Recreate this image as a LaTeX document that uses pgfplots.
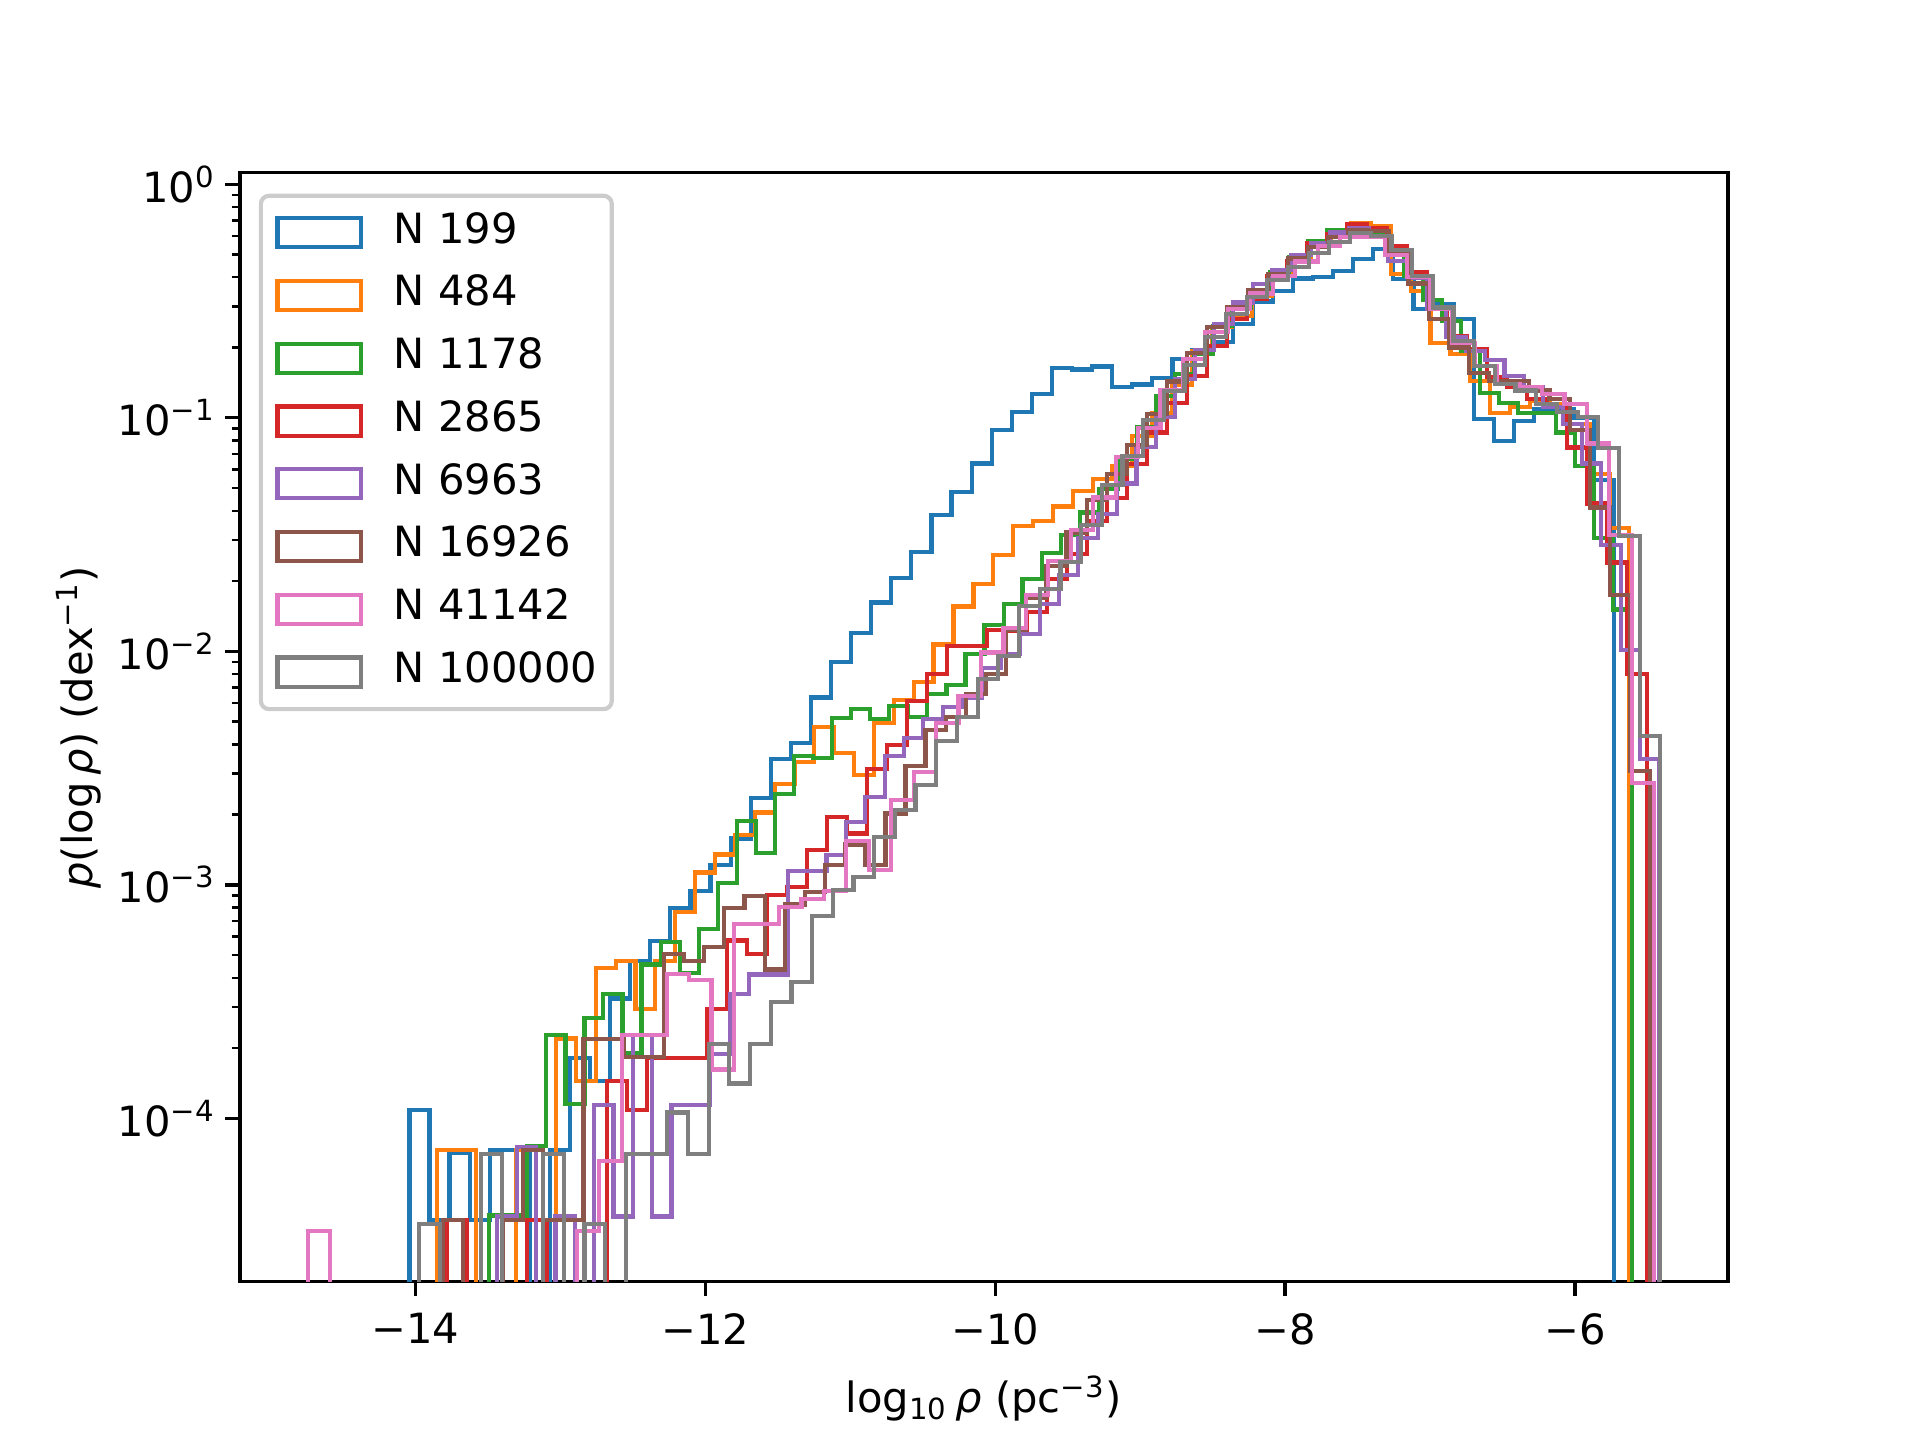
\documentclass[border=0pt]{standalone}
\usepackage{fontspec}
\setmainfont{DejaVu Sans}
\usepackage{pgfplots}
\pgfplotsset{compat=1.18}
\definecolor{c0}{HTML}{1F77B4}
\definecolor{c1}{HTML}{FF7F0E}
\definecolor{c2}{HTML}{2CA02C}
\definecolor{c3}{HTML}{D62728}
\definecolor{c4}{HTML}{9467BD}
\definecolor{c5}{HTML}{8C564B}
\definecolor{c6}{HTML}{E377C2}
\definecolor{c7}{HTML}{7F7F7F}
\definecolor{legframe}{rgb}{0.8,0.8,0.8}
\begin{document}
\begin{tikzpicture}
\useasboundingbox (0,0) rectangle (460.8bp,345.6bp);
\begin{axis}[
  at={(57.6bp,38.016bp)}, anchor=south west,
  scale only axis, width=357.12bp, height=266.11bp,
  ymode=log,
  xmin=-15.2085, xmax=-4.9455, ymin=2.0e-5, ymax=1.12,
  axis line style={line width=0.8bp},
  tick align=outside, xtick pos=left, ytick pos=left,
  major tick length=3.5bp, minor tick length=2bp,
  every major tick/.style={black, line width=0.8bp},
  every minor tick/.style={black, line width=0.6bp},
  xtick={-14,-12,-10,-8,-6},
  xticklabels={−14,−12,−10,−8,−6},
  ytick={1e-4,1e-3,1e-2,1e-1,1},
  yticklabels={10\textsuperscript{−4},10\textsuperscript{−3},10\textsuperscript{−2},10\textsuperscript{−1},10\textsuperscript{0}},
  tick label style={font=\fontsize{10bp}{12bp}\selectfont},
  xticklabel style={yshift=-0.6bp},
  yticklabel style={xshift=1.2bp},
  label style={font=\fontsize{10bp}{12bp}\selectfont},
  xlabel style={yshift=-0.6bp},
  ylabel style={yshift=-3bp},
  xlabel={log\textsubscript{10}\,\textit{ρ} (pc\textsuperscript{−3})},
  ylabel={\textit{p}(log\,\textit{ρ}) (dex\textsuperscript{−1})},
  legend cell align=left,
  legend image code/.code={\draw[#1, sharp corners] (0bp,-3.5bp) rectangle (20bp,3.5bp);},
  legend style={at={(0,1)}, anchor=north west, xshift=4.5bp, yshift=-5bp,
    draw=legframe, line width=1bp, fill=white, fill opacity=0.8, text opacity=1,
    rounded corners=2bp, inner xsep=3.5bp, inner ysep=4bp,
    row sep=5.26bp, column sep=7.4bp,
    font=\fontsize{10bp}{12bp}\selectfont,
    nodes={inner sep=0pt, text height=7.4bp, text depth=2.4bp, anchor=west}},
  every axis plot/.append style={const plot, line width=1bp},
]
\addplot[c0] coordinates {(-14.040,1e-7)
(-14.040,1.09e-4) (-13.902,3.66e-5) (-13.763,7.1e-5) (-13.625,3.66e-5) (-13.486,7.3e-5) (-13.348,7.3e-5) (-13.209,1e-7) (-13.071,7.3e-5) (-12.932,1.82e-4) (-12.794,1.45e-4) (-12.655,3.26e-4) (-12.517,4.72e-4) (-12.378,5.74e-4) (-12.240,7.93e-4) (-12.101,9.4e-4) (-11.963,1.22e-3) (-11.824,1.58e-3) (-11.686,2.36e-3) (-11.547,3.45e-3) (-11.409,4.06e-3) (-11.270,6.34e-3) (-11.132,9.04e-3) (-10.993,0.012) (-10.855,0.0162) (-10.716,0.0206) (-10.578,0.0267) (-10.439,0.0384) (-10.301,0.0483) (-10.162,0.0637) (-10.024,0.0886) (-9.885,0.106) (-9.747,0.126) (-9.608,0.163) (-9.470,0.161) (-9.331,0.166) (-9.193,0.136) (-9.054,0.139) (-8.916,0.148) (-8.777,0.178) (-8.639,0.195) (-8.500,0.212) (-8.362,0.252) (-8.223,0.315) (-8.085,0.35) (-7.946,0.395) (-7.808,0.40) (-7.669,0.424) (-7.531,0.479) (-7.392,0.528) (-7.254,0.393) (-7.115,0.292) (-6.977,0.307) (-6.838,0.266) (-6.700,0.0987) (-6.561,0.0797) (-6.423,0.097) (-6.284,0.109) (-6.146,0.109) (-6.007,0.100) (-5.869,0.054) (-5.730,1e-7)};
\addlegendentry{N 199}
\addplot[c1] coordinates {(-13.852,1e-7)
(-13.852,7.33e-5) (-13.715,7.33e-5) (-13.578,1e-7) (-13.441,1e-7) (-13.304,7.33e-5) (-13.167,1e-7) (-13.029,2.2e-4) (-12.892,1.45e-4) (-12.755,4.39e-4) (-12.618,4.72e-4) (-12.481,2.93e-4) (-12.344,4.72e-4) (-12.207,7.67e-4) (-12.070,1.13e-3) (-11.933,1.35e-3) (-11.796,1.64e-3) (-11.658,2.04e-3) (-11.521,2.71e-3) (-11.384,3.37e-3) (-11.247,4.74e-3) (-11.110,3.68e-3) (-10.973,2.96e-3) (-10.836,4.95e-3) (-10.699,6.17e-3) (-10.562,7.42e-3) (-10.425,0.0107) (-10.287,0.01555) (-10.150,0.0195) (-10.013,0.0258) (-9.876,0.0344) (-9.739,0.0362) (-9.602,0.0417) (-9.465,0.0487) (-9.328,0.0546) (-9.191,0.0622) (-9.054,0.0838) (-8.916,0.105) (-8.779,0.139) (-8.642,0.194) (-8.505,0.244) (-8.368,0.273) (-8.231,0.333) (-8.094,0.406) (-7.957,0.471) (-7.820,0.551) (-7.683,0.616) (-7.545,0.680) (-7.408,0.665) (-7.271,0.413) (-7.134,0.35) (-6.997,0.21) (-6.860,0.1875) (-6.723,0.144) (-6.586,0.105) (-6.449,0.111) (-6.312,0.118) (-6.174,0.115) (-6.037,0.094) (-5.900,0.0574) (-5.763,0.0337) (-5.626,1e-7)};
\addlegendentry{N 484}
\addplot[c2] coordinates {(-13.490,1e-7)
(-13.490,3.84e-5) (-13.359,3.84e-5) (-13.227,7.6e-5) (-13.096,2.27e-4) (-12.964,1.15e-4) (-12.833,2.68e-4) (-12.702,3.42e-4) (-12.570,1.91e-4) (-12.439,4.56e-4) (-12.307,5.69e-4) (-12.176,4.2e-4) (-12.045,6.49e-4) (-11.913,1.02e-3) (-11.782,1.87e-3) (-11.650,1.37e-3) (-11.519,2.44e-3) (-11.388,3.56e-3) (-11.256,3.48e-3) (-11.125,5.2e-3) (-10.993,5.65e-3) (-10.862,5.12e-3) (-10.731,5.83e-3) (-10.599,5.24e-3) (-10.468,6.59e-3) (-10.336,7.18e-3) (-10.205,9.77e-3) (-10.074,0.0130) (-9.942,0.0160) (-9.811,0.0204) (-9.679,0.0263) (-9.548,0.0314) (-9.417,0.0393) (-9.285,0.0495) (-9.154,0.0665) (-9.022,0.091) (-8.891,0.124) (-8.760,0.154) (-8.628,0.1875) (-8.497,0.248) (-8.365,0.295) (-8.234,0.35) (-8.103,0.42) (-7.971,0.49) (-7.840,0.573) (-7.708,0.637) (-7.577,0.637) (-7.446,0.616) (-7.314,0.546) (-7.183,0.406) (-7.051,0.319) (-6.920,0.259) (-6.789,0.194) (-6.657,0.128) (-6.526,0.116) (-6.394,0.105) (-6.263,0.105) (-6.132,0.0865) (-6.000,0.0622) (-5.869,0.0307) (-5.737,0.0151) (-5.606,1e-7)};
\addlegendentry{N 1178}
\addplot[c3] coordinates {(-13.783,1e-7)
(-13.783,3.66e-5) (-13.645,1e-7) (-13.507,1e-7) (-13.369,1e-7) (-13.231,3.66e-5) (-13.093,1e-7) (-12.955,1e-7) (-12.817,1e-7) (-12.679,1.45e-4) (-12.541,1.09e-4) (-12.403,1.82e-4) (-12.265,1.82e-4) (-12.127,1.82e-4) (-11.989,2.93e-4) (-11.851,5.78e-4) (-11.713,5.07e-4) (-11.575,9.06e-4) (-11.437,9.79e-4) (-11.299,1.41e-3) (-11.161,1.95e-3) (-11.023,1.66e-3) (-10.885,3.13e-3) (-10.747,3.97e-3) (-10.609,6.13e-3) (-10.471,7.98e-3) (-10.333,0.01055) (-10.195,0.01055) (-10.057,0.0123) (-9.919,0.0122) (-9.781,0.0148) (-9.643,0.0204) (-9.505,0.0262) (-9.367,0.0362) (-9.229,0.0453) (-9.091,0.0633) (-8.953,0.0865) (-8.815,0.116) (-8.677,0.151) (-8.539,0.203) (-8.401,0.265) (-8.263,0.322) (-8.125,0.406) (-7.987,0.471) (-7.849,0.558) (-7.711,0.612) (-7.573,0.676) (-7.435,0.65) (-7.297,0.546) (-7.159,0.42) (-7.021,0.292) (-6.883,0.225) (-6.745,0.197) (-6.607,0.149) (-6.469,0.135) (-6.331,0.120) (-6.193,0.111) (-6.055,0.0746) (-5.917,0.043) (-5.779,0.024) (-5.641,8.03e-3) (-5.503,1e-7)};
\addlegendentry{N 2865}
\addplot[c4] coordinates {(-13.434,1e-7)
(-13.434,3.8e-5) (-13.300,7.55e-5) (-13.167,1e-7) (-13.033,3.8e-5) (-12.900,1e-7) (-12.766,1.14e-4) (-12.632,3.8e-5) (-12.499,2.27e-4) (-12.365,3.8e-5) (-12.232,1.14e-4) (-12.098,1.14e-4) (-11.964,1.88e-4) (-11.831,3.4e-4) (-11.697,4.13e-4) (-11.564,4.13e-4) (-11.430,1.15e-3) (-11.296,1.15e-3) (-11.163,1.34e-3) (-11.029,1.86e-3) (-10.896,2.38e-3) (-10.762,3.56e-3) (-10.628,4.24e-3) (-10.495,5.12e-3) (-10.361,5.78e-3) (-10.228,6.34e-3) (-10.094,8.51e-3) (-9.960,9.72e-3) (-9.827,0.01183) (-9.693,0.016) (-9.560,0.0212) (-9.426,0.0305) (-9.292,0.0387) (-9.159,0.0523) (-9.025,0.0751) (-8.892,0.101) (-8.758,0.1465) (-8.624,0.195) (-8.491,0.252) (-8.357,0.312) (-8.224,0.374) (-8.090,0.43) (-7.956,0.498) (-7.823,0.558) (-7.689,0.622) (-7.556,0.65) (-7.422,0.6) (-7.288,0.471) (-7.155,0.397) (-7.021,0.292) (-6.888,0.221) (-6.754,0.194) (-6.620,0.177) (-6.487,0.151) (-6.353,0.135) (-6.220,0.111) (-6.086,0.094) (-5.952,0.0637) (-5.819,0.0285) (-5.685,0.0101) (-5.552,3.47e-3) (-5.418,1e-7)};
\addlegendentry{N 6963}
\addplot[c5] coordinates {(-13.811,1e-7)
(-13.811,3.66e-5) (-13.672,1e-7) (-13.533,1e-7) (-13.395,3.66e-5) (-13.256,7.3e-5) (-13.117,3.66e-5) (-12.978,3.66e-5) (-12.839,2.18e-4) (-12.701,2.18e-4) (-12.562,1.83e-4) (-12.423,1.83e-4) (-12.284,5.07e-4) (-12.145,4.72e-4) (-12.007,5.42e-4) (-11.868,7.93e-4) (-11.729,8.95e-4) (-11.590,4.34e-4) (-11.451,8.24e-4) (-11.313,9.35e-4) (-11.174,1.22e-3) (-11.035,1.49e-3) (-10.896,1.22e-3) (-10.757,2.02e-3) (-10.619,3.23e-3) (-10.480,4.59e-3) (-10.341,5.24e-3) (-10.202,6.59e-3) (-10.063,7.98e-3) (-9.925,0.0123) (-9.786,0.017) (-9.647,0.0232) (-9.508,0.0323) (-9.369,0.0444) (-9.231,0.0577) (-9.092,0.0766) (-8.953,0.104) (-8.814,0.143) (-8.675,0.19) (-8.537,0.245) (-8.398,0.297) (-8.259,0.352) (-8.120,0.413) (-7.981,0.481) (-7.843,0.537) (-7.704,0.596) (-7.565,0.637) (-7.426,0.63) (-7.287,0.506) (-7.149,0.376) (-7.010,0.265) (-6.871,0.2) (-6.732,0.156) (-6.593,0.144) (-6.455,0.144) (-6.316,0.131) (-6.177,0.12) (-6.038,0.0886) (-5.899,0.0413) (-5.761,0.0175) (-5.622,3.07e-3) (-5.483,1e-7)};
\addlegendentry{N 16926}
\addplot[c6] coordinates {(-14.742,1e-7)
(-14.742,3.29e-5) (-14.587,1e-7) (-14.432,1e-7) (-14.278,1e-7) (-14.123,1e-7) (-13.968,1e-7) (-13.813,1e-7) (-13.658,1e-7) (-13.504,1e-7) (-13.349,1e-7) (-13.194,1e-7) (-13.039,1e-7) (-12.884,3.29e-5) (-12.730,6.56e-5) (-12.575,2.27e-4) (-12.420,2.27e-4) (-12.265,4.16e-4) (-12.110,3.9e-4) (-11.956,1.62e-4) (-11.801,6.8e-4) (-11.646,6.8e-4) (-11.491,8.06e-4) (-11.336,8.72e-4) (-11.182,9.4e-4) (-11.027,1.54e-3) (-10.872,1.16e-3) (-10.717,2.31e-3) (-10.562,3.05e-3) (-10.408,4.92e-3) (-10.253,6.44e-3) (-10.098,9.88e-3) (-9.943,0.01264) (-9.788,0.01745) (-9.634,0.0244) (-9.479,0.0331) (-9.324,0.0456) (-9.169,0.068) (-9.014,0.0903) (-8.860,0.1315) (-8.705,0.178) (-8.550,0.234) (-8.395,0.292) (-8.240,0.341) (-8.086,0.406) (-7.931,0.467) (-7.776,0.546) (-7.621,0.597) (-7.466,0.597) (-7.312,0.50) (-7.157,0.40) (-7.002,0.293) (-6.847,0.21) (-6.692,0.167) (-6.538,0.14) (-6.383,0.135) (-6.228,0.126) (-6.073,0.115) (-5.918,0.0776) (-5.764,0.0315) (-5.609,2.72e-3) (-5.454,1e-7)};
\addlegendentry{N 41142}
\addplot[c7] coordinates {(-13.974,1e-7)
(-13.974,3.53e-5) (-13.831,1e-7) (-13.689,1e-7) (-13.546,7.05e-5) (-13.403,1e-7) (-13.261,1e-7) (-13.118,7.05e-5) (-12.975,1e-7) (-12.832,3.53e-5) (-12.690,1e-7) (-12.547,7.05e-5) (-12.404,7.05e-5) (-12.262,1.06e-4) (-12.119,7.05e-5) (-11.976,2.09e-4) (-11.834,1.41e-4) (-11.691,2.09e-4) (-11.548,3.16e-4) (-11.405,3.85e-4) (-11.263,7.35e-4) (-11.120,9.47e-4) (-10.977,1.08e-3) (-10.835,1.6e-3) (-10.692,2.09e-3) (-10.549,2.68e-3) (-10.407,4.13e-3) (-10.264,5.24e-3) (-10.121,7.59e-3) (-9.978,9.55e-3) (-9.836,0.0156) (-9.693,0.01845) (-9.550,0.0242) (-9.408,0.0347) (-9.265,0.0516) (-9.122,0.0687) (-8.980,0.0977) (-8.837,0.130) (-8.694,0.169) (-8.551,0.221) (-8.409,0.278) (-8.266,0.328) (-8.123,0.389) (-7.981,0.444) (-7.838,0.506) (-7.695,0.564) (-7.553,0.617) (-7.410,0.603) (-7.267,0.522) (-7.124,0.406) (-6.982,0.297) (-6.839,0.214) (-6.696,0.167) (-6.554,0.140) (-6.411,0.131) (-6.268,0.115) (-6.126,0.106) (-5.983,0.101) (-5.840,0.074) (-5.697,0.0312) (-5.555,4.35e-3) (-5.412,1e-7)};
\addlegendentry{N 100000}
\end{axis}
\end{tikzpicture}
\end{document}
